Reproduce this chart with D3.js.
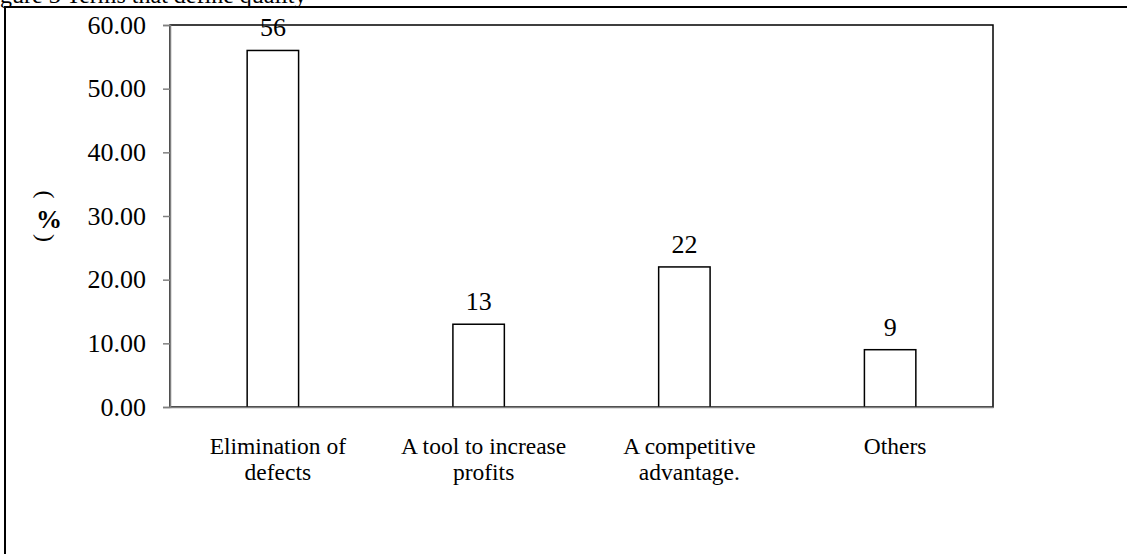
<!DOCTYPE html>
<html>
<head>
<meta charset="utf-8">
<script src="https://cdn.jsdelivr.net/npm/d3@7"></script>
<style>
  html, body { margin: 0; padding: 0; background: #fff; }
  svg { display: block; }
  text { font-family: "Liberation Serif", "Times New Roman", serif; fill: #000; }
</style>
</head>
<body>
<svg id="chart" width="1127" height="554"></svg>
<script>
// Terms that define quality, share of respondents (%)
const categories = [
  ["Elimination of", "defects"],
  ["A tool to increase", "profits"],
  ["A competitive", "advantage."],
  ["Others"]
];
const values = [56, 13, 22, 9];
const yTicks = [0, 10, 20, 30, 40, 50, 60];
const title = "Figure 3 Terms that define quality";

const svg = d3.select("#chart");
const W = 1127, H = 554;
const plot = { left: 170, top: 25, right: 993, bottom: 407 };

// Caption, running off the top edge
svg.append("text").attr("x", -20).attr("y", 3)
  .style("font-size", "24px").text(title);

// Outer figure frame (left and top edges)
svg.append("line").attr("x1", 5).attr("x2", 5).attr("y1", 7).attr("y2", H)
  .attr("stroke", "#000").attr("stroke-width", 2);
svg.append("line").attr("x1", 4).attr("x2", W).attr("y1", 7).attr("y2", 7)
  .attr("stroke", "#000").attr("stroke-width", 2);

const x = d3.scaleBand()
  .domain(d3.range(categories.length))
  .range([plot.left, plot.right])
  .paddingInner(0).paddingOuter(0);

const y = d3.scaleLinear().domain([0, 60]).range([plot.bottom, plot.top]);

// Plot area border
svg.append("rect")
  .attr("x", plot.left).attr("y", plot.top)
  .attr("width", plot.right - plot.left).attr("height", plot.bottom - plot.top)
  .attr("fill", "none").attr("stroke", "#000").attr("stroke-width", 1.5);

// Bars: width = band / 4 (gap width 300%)
const barW = x.bandwidth() / 4;
svg.append("g").selectAll("rect")
  .data(values)
  .join("rect")
  .attr("x", (d, i) => x(i) + (x.bandwidth() - barW) / 2)
  .attr("y", d => y(d))
  .attr("width", barW)
  .attr("height", d => y(0) - y(d))
  .attr("fill", "#fff")
  .attr("stroke", "#000")
  .attr("stroke-width", 1.5);

// Value labels above bars
svg.append("g").selectAll("text")
  .data(values)
  .join("text")
  .attr("x", (d, i) => x(i) + x.bandwidth() / 2)
  .attr("y", d => y(d) - 14)
  .attr("text-anchor", "middle")
  .style("font-size", "26px")
  .text(d => d3.format(".0f")(d));

// Y axis
const yAxis = d3.axisLeft(y)
  .tickValues(yTicks)
  .tickSize(7)
  .tickPadding(17)
  .tickFormat(d3.format(".2f"));
const gy = svg.append("g").attr("transform", `translate(${plot.left},0)`).call(yAxis);
gy.select(".domain").attr("stroke", "#808080").attr("stroke-width", 1.5);
gy.selectAll(".tick line").attr("stroke", "#808080").attr("stroke-width", 1.5);
gy.selectAll(".tick text")
  .style("font-size", "26px")
  .style("font-family", "'Liberation Serif', 'Times New Roman', serif")
  .attr("fill", "#000");

// X axis (no tick marks)
const xAxis = d3.axisBottom(x).tickSize(0).tickFormat("");
const gx = svg.append("g").attr("transform", `translate(0,${plot.bottom})`).call(xAxis);
gx.select(".domain").attr("stroke", "#808080").attr("stroke-width", 1.5);

// Category labels (two lines)
const catG = svg.append("g");
categories.forEach((lines, i) => {
  const t = catG.append("text")
    .attr("text-anchor", "middle")
    .style("font-size", "23.5px");
  lines.forEach((ln, j) => {
    t.append("tspan")
      .attr("x", x(i) + x.bandwidth() / 2 + 5)
      .attr("y", 454 + j * 26)
      .text(ln);
  });
});

// Y axis title: rotated parentheses around an upright bold percent sign
const ty = svg.append("g").style("font-size", "24px");
ty.append("text").attr("transform", "translate(46,194.5) rotate(90)")
  .attr("text-anchor", "middle").attr("dy", "0.35em").text("(");
ty.append("text").attr("x", 49).attr("y", 219)
  .style("font-weight", "bold").style("font-size", "26px")
  .attr("text-anchor", "middle").attr("dy", "0.35em").text("%");
ty.append("text").attr("transform", "translate(46,238) rotate(90)")
  .attr("text-anchor", "middle").attr("dy", "0.35em").text(")");
</script>
</body>
</html>
